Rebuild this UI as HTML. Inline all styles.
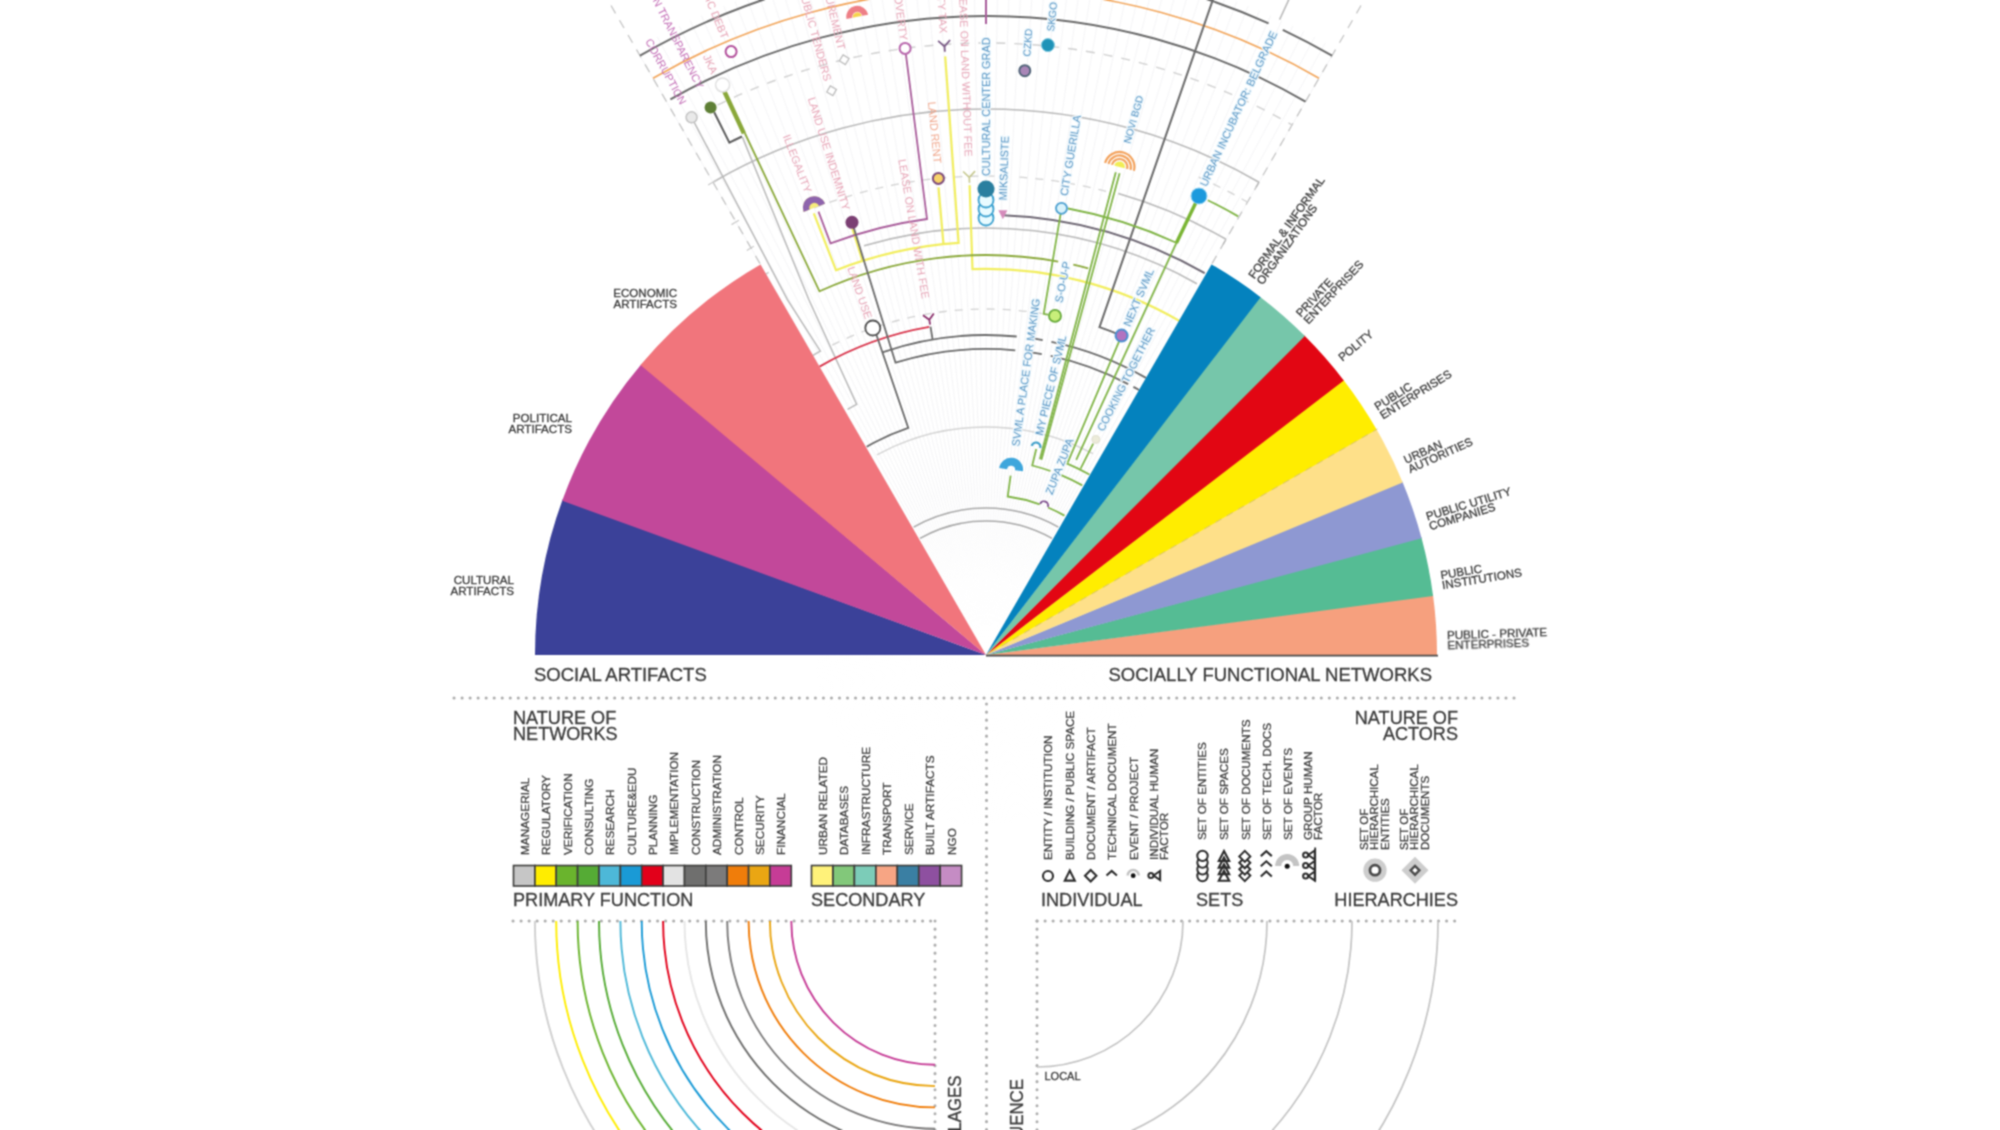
<!DOCTYPE html>
<html><head><meta charset="utf-8"><title>Network diagram</title>
<style>
html,body{margin:0;padding:0;background:#fff;}
body{width:2000px;height:1130px;overflow:hidden;}
svg{display:block;font-family:"Liberation Sans",sans-serif;}
#bottom text{stroke:#3a3a3a;stroke-width:.3px;}
</style></head><body>
<svg width="2000" height="1130" viewBox="0 0 2000 1130">
<defs><filter id="soft" filterUnits="userSpaceOnUse" x="0" y="0" width="2000" height="1130" color-interpolation-filters="sRGB"><feConvolveMatrix order="3" kernelMatrix="1 2 1 2 5 2 1 2 1" divisor="17" edgeMode="duplicate" preserveAlpha="false"/></filter></defs>
<rect width="2000" height="1130" fill="#fff"/>
<g filter="url(#soft)">
<g id="top">
<path d="M1001.0 629.0L1336.0 48.8M1000.5 628.8L1325.4 42.8M1000.1 628.5L1314.6 36.9M999.6 628.3L1303.8 31.3M999.2 628.0L1292.9 25.8M998.7 627.8L1281.8 20.6M998.2 627.6L1270.7 15.5M997.7 627.4L1259.5 10.6M997.2 627.2L1248.2 6.0M996.8 627.0L1236.9 1.5M996.3 626.8L1225.4 -2.8M995.8 626.6L1213.9 -6.9M995.3 626.5L1202.3 -10.7M994.8 626.3L1190.7 -14.4M994.3 626.2L1178.9 -17.9M993.8 626.0L1167.2 -21.1M993.3 625.9L1155.3 -24.2M992.7 625.8L1143.5 -27.1M992.2 625.7L1131.5 -29.7M991.7 625.6L1119.6 -32.1M991.2 625.5L1107.6 -34.4M990.7 625.4L1095.5 -36.4M990.2 625.3L1083.4 -38.2M989.7 625.2L1071.3 -39.8M989.1 625.2L1059.2 -41.2M988.6 625.1L1047.0 -42.3M988.1 625.1L1034.8 -43.3M987.6 625.0L1022.6 -44.0M987.0 625.0L1010.4 -44.6M986.5 625.0L998.2 -44.9M986.0 625.0L986.0 -45.0M985.5 625.0L973.8 -44.9M985.0 625.0L961.6 -44.6M984.4 625.0L949.4 -44.0M983.9 625.1L937.2 -43.3M983.4 625.1L925.0 -42.3M982.9 625.2L912.8 -41.2M982.3 625.2L900.7 -39.8M981.8 625.3L888.6 -38.2M981.3 625.4L876.5 -36.4M980.8 625.5L864.4 -34.4M980.3 625.6L852.4 -32.1M979.8 625.7L840.5 -29.7M979.3 625.8L828.5 -27.1M978.7 625.9L816.7 -24.2M978.2 626.0L804.8 -21.1M977.7 626.2L793.1 -17.9M977.2 626.3L781.3 -14.4M976.7 626.5L769.7 -10.7M976.2 626.6L758.1 -6.9M975.7 626.8L746.6 -2.8M975.2 627.0L735.1 1.5M974.8 627.2L723.8 6.0M974.3 627.4L712.5 10.6M973.8 627.6L701.3 15.5M973.3 627.8L690.2 20.6M972.8 628.0L679.1 25.8M972.4 628.3L668.2 31.3M971.9 628.5L657.4 36.9M971.5 628.8L646.6 42.8M971.0 629.0L636.0 48.8" stroke="#f1f1f4" stroke-width="0.8" fill="none"/>
<defs><radialGradient id="cg" cx="986" cy="655" r="170" gradientUnits="userSpaceOnUse"><stop offset="0" stop-color="#fff" stop-opacity="1"/><stop offset="0.45" stop-color="#fff" stop-opacity="0.9"/><stop offset="1" stop-color="#fff" stop-opacity="0"/></radialGradient></defs><circle cx="986" cy="655" r="170" fill="url(#cg)"/>
<path d="M760.0 263.6L606.0 -3.2" fill="none" stroke="#c4c4c4" stroke-width="1.3" stroke-dasharray="9 8"/>
<path d="M1212.0 263.6L1366.0 -3.2" fill="none" stroke="#c4c4c4" stroke-width="1.3" stroke-dasharray="9 8"/>
<path d="M640.0 55.7A692.0 692.0 0 0 1 1268.6 23.3" fill="none" stroke="#6a6a6a" stroke-width="2"/>
<path d="M1282.8 29.9A692.0 692.0 0 0 1 1332.0 55.7" fill="none" stroke="#6a6a6a" stroke-width="2"/>
<path d="M653.0 78.2A666.0 666.0 0 0 1 1319.0 78.2" fill="none" stroke="#f2a55a" stroke-width="1.6"/>
<path d="M670.4 99.4A639.0 639.0 0 0 1 1305.5 101.6" fill="none" stroke="#6a6a6a" stroke-width="2"/>
<path d="M717.7 104.9A612.0 612.0 0 0 1 1292.0 125.0" fill="none" stroke="#cfcfcf" stroke-width="1.4" stroke-dasharray="9 9"/>
<path d="M713.8 181.7A546.0 546.0 0 0 1 1259.0 182.2" fill="none" stroke="#b9b9b9" stroke-width="1.6"/>
<path d="M1118.3 193.6A480.0 480.0 0 0 1 1226.0 239.3" fill="none" stroke="#b9b9b9" stroke-width="1.6"/>
<path d="M814.3 207.8A479.0 479.0 0 0 1 1002.7 176.3" fill="none" stroke="#d2d2d2" stroke-width="1.3" stroke-dasharray="8 8"/>
<path d="M1019.4 177.2A479.0 479.0 0 0 1 1110.0 192.3" fill="none" stroke="#d2d2d2" stroke-width="1.3" stroke-dasharray="8 8"/>
<path d="M1198.7 177.2A523.0 523.0 0 0 1 1247.5 202.1" fill="none" stroke="#d2d2d2" stroke-width="1.3" stroke-dasharray="8 8"/>
<path d="M864.0 245.8A427.0 427.0 0 0 1 1196.9 283.7" fill="none" stroke="#b9b9b9" stroke-width="1.6"/>
<path d="M876.9 454.8A228.0 228.0 0 0 1 1093.0 453.7" fill="none" stroke="#d4d4d4" stroke-width="1.4"/>
<path d="M913.6 527.1A147.0 147.0 0 0 1 1058.4 527.1" fill="none" stroke="#a9a9a9" stroke-width="1.6"/>
<path d="M920.0 538.4A134.0 134.0 0 0 1 1052.0 538.4" fill="none" stroke="#a9a9a9" stroke-width="1.6"/>
<path d="M832.2 345.1A346.0 346.0 0 0 1 1049.1 314.8" fill="none" stroke="#d2d2d2" stroke-width="1.3" stroke-dasharray="8 8"/>
<path d="M1259.0 182.2L1256.0 187.3" fill="none" stroke="#b9b9b9" stroke-width="1.4"/>
<path d="M1226.0 239.3L1223.0 244.5" fill="none" stroke="#b9b9b9" stroke-width="1.4"/>
<path d="M708.1 185.0A546.0 546.0 0 0 1 716.3 180.3" fill="none" stroke="#c9c9c9" stroke-width="1.3"/>
<path d="M731.5 224.6A500.0 500.0 0 0 1 739.0 220.3" fill="none" stroke="#c9c9c9" stroke-width="1.3"/>
<path d="M746.8 250.5A470.0 470.0 0 0 1 753.8 246.3" fill="none" stroke="#c9c9c9" stroke-width="1.3"/>
<path d="M762.0 276.3A440.0 440.0 0 0 1 768.7 272.4" fill="none" stroke="#c9c9c9" stroke-width="1.3"/>
<path d="M691.6 117.3L787.4 299.7L820.4 351.2A346.0 346.0 0 0 0 813.0 355.4" fill="none" stroke="#b9b9b9" stroke-width="1.5"/>
<path d="M742.5 137.4L808.9 299.7L856.7 404.4A282.0 282.0 0 0 0 847.6 409.3" fill="none" stroke="#b9b9b9" stroke-width="1.5"/>
<path d="M1279.6 19.6L1304.8 -34.9" fill="none" stroke="#b9b9b9" stroke-width="1.5"/>
<path d="M813.8 213.4L836.0 270.2A413.0 413.0 0 0 1 958.6 242.9L945.2 56.4" fill="none" stroke="#f2ee5e" stroke-width="2.2"/>
<path d="M943.5 244.2L938.5 187.4" fill="none" stroke="#f2ee5e" stroke-width="2.2"/>
<path d="M852.3 228.5L862.2 259.9" fill="none" stroke="#f2ee5e" stroke-width="2.2"/>
<path d="M969.6 185.3L972.5 269.2A386.0 386.0 0 0 1 1180.2 321.4" fill="none" stroke="#f2ee5e" stroke-width="2.2"/>
<path d="M722.4 87.2L743.9 133.4" fill="none" stroke="#8aa83a" stroke-width="4.5"/>
<path d="M744.8 133.0L819.5 291.3A400.0 400.0 0 0 1 1058.2 261.6" fill="none" stroke="#8aa83a" stroke-width="1.8"/>
<path d="M1073.3 264.6A400.0 400.0 0 0 1 1088.2 268.3" fill="none" stroke="#8aa83a" stroke-width="1.8"/>
<path d="M818.5 211.6L830.5 243.4A440.0 440.0 0 0 1 927.0 219.0L905.9 54.3" fill="none" stroke="#a85c9a" stroke-width="1.8"/>
<path d="M986.0 0.0L986.0 24.0" fill="none" stroke="#a85c9a" stroke-width="2"/>
<path d="M929.3 326.9A333.0 333.0 0 0 0 819.5 366.6" fill="none" stroke="#d8334a" stroke-width="1.8"/>
<path d="M1234.7 -63.2L1099.5 327.1A347.0 347.0 0 0 1 1121.6 335.6" fill="none" stroke="#6a6a6a" stroke-width="2"/>
<path d="M1002.9 215.3A440.0 440.0 0 0 1 1204.7 273.2" fill="none" stroke="#6f6874" stroke-width="2"/>
<path d="M930.5 326.7L932.6 339.5" fill="none" stroke="#6a6a6a" stroke-width="1.8"/>
<path d="M875.9 333.3L908.3 427.9A240.0 240.0 0 0 0 866.7 446.7" fill="none" stroke="#6a6a6a" stroke-width="1.8"/>
<path d="M882.3 352.3A320.0 320.0 0 0 1 1016.7 336.5" fill="none" stroke="#6a6a6a" stroke-width="1.8"/>
<path d="M1028.9 337.9A320.0 320.0 0 0 1 1042.7 340.1" fill="none" stroke="#6a6a6a" stroke-width="1.8"/>
<path d="M1051.4 341.8A320.0 320.0 0 0 1 1146.0 377.9" fill="none" stroke="#6a6a6a" stroke-width="1.8"/>
<path d="M853.5 227.0L895.5 362.7A306.0 306.0 0 0 1 1015.3 350.4" fill="none" stroke="#6a6a6a" stroke-width="1.8"/>
<path d="M1027.0 351.8A306.0 306.0 0 0 1 1041.8 354.1" fill="none" stroke="#6a6a6a" stroke-width="1.8"/>
<path d="M1050.7 355.9A306.0 306.0 0 0 1 1128.2 384.1" fill="none" stroke="#6a6a6a" stroke-width="1.8"/>
<path d="M1133.4 386.9A306.0 306.0 0 0 1 1139.0 390.0" fill="none" stroke="#6a6a6a" stroke-width="1.8"/>
<path d="M714.2 112.2L729.4 142.6A573.0 573.0 0 0 1 742.0 136.5" fill="none" stroke="#5c5c5c" stroke-width="2"/>
<path d="M1060.7 213.3L1043.7 313.8A346.0 346.0 0 0 1 1048.5 314.7" fill="none" stroke="#80b446" stroke-width="1.8"/>
<path d="M1068.0 208.5A454.0 454.0 0 0 1 1175.7 242.5" fill="none" stroke="#80b446" stroke-width="1.8"/>
<path d="M1199.0 196.0L1176.4 242.9" fill="none" stroke="#7ab534" stroke-width="3.5"/>
<path d="M1176.4 242.9L1076.2 459.8" fill="none" stroke="#80b446" stroke-width="1.8"/>
<path d="M1207.8 200.2A506.0 506.0 0 0 1 1238.2 216.4" fill="none" stroke="#80b446" stroke-width="1.8"/>
<path d="M1115.8 172.2L1039.9 459.3" fill="none" stroke="#80b446" stroke-width="1.8"/>
<path d="M1119.6 173.2L1041.4 459.7" fill="none" stroke="#80b446" stroke-width="1.8"/>
<path d="M1119.2 341.1L1067.7 462.6" fill="none" stroke="#80b446" stroke-width="1.8"/>
<path d="M1093.2 443.6L1080.6 468.6" fill="none" stroke="#80b446" stroke-width="1.8"/>
<path d="M1066.6 463.3A208.0 208.0 0 0 1 1089.4 474.5" fill="none" stroke="#80b446" stroke-width="1.8"/>
<path d="M1036.2 449.0L1032.2 465.5A195.0 195.0 0 0 1 1050.5 471.0" fill="none" stroke="#80b446" stroke-width="1.8"/>
<path d="M1060.6 474.8A195.0 195.0 0 0 1 1082.3 485.4" fill="none" stroke="#80b446" stroke-width="1.8"/>
<path d="M1010.6 475.7L1007.7 496.5A160.0 160.0 0 0 1 1039.7 504.3" fill="none" stroke="#80b446" stroke-width="1.8"/>
<path d="M1048.0 507.5A160.0 160.0 0 0 1 1064.5 515.6" fill="none" stroke="#80b446" stroke-width="1.8"/>
<circle cx="691.6" cy="117.3" r="5.5" fill="#e9e9e9" stroke="#c2c2c2" stroke-width="1.5"/>
<circle cx="710.6" cy="107.4" r="6" fill="#5e7f35" stroke="none" stroke-width="1.5"/>
<circle cx="722.6" cy="84.9" r="7" fill="#fff" stroke="#e0e0e0" stroke-width="1.5"/>
<circle cx="731.1" cy="51.6" r="5.5" fill="#fff" stroke="#b3519c" stroke-width="2"/>
<path transform="translate(831.6 90.7) rotate(-15.3)" d="M0 -5L5 0L0 5L-5 0Z" fill="#fff" stroke="#bdbdbd" stroke-width="1.3"/>
<path transform="translate(844.2 59.7) rotate(-13.4)" d="M0 -5L5 0L0 5L-5 0Z" fill="#fff" stroke="#bdbdbd" stroke-width="1.3"/>
<path transform="translate(857.3 16.8) rotate(-11.4)" d="M-11 0A11 11 0 0 1 11 0L5 0A5 5 0 0 0 -5 0Z" fill="#ee7f86" stroke="none" stroke-width="1"/>
<path transform="translate(857.3 16.8) rotate(-11.4)" d="M-4.5 0A4.5 4.5 0 0 1 4.5 0L0 0A0 0 0 0 0 0 0Z" fill="#f6d34e" stroke="none" stroke-width="1"/>
<circle cx="905.1" cy="48.4" r="5.5" fill="#fff" stroke="#b866ac" stroke-width="2"/>
<path transform="translate(944.5 46.4) rotate(-3.9)" d="M-6 -6L0 0L6 -6M0 0L0 5.4" fill="none" stroke="#7a5a86" stroke-width="1.8"/>
<circle cx="1047.9" cy="45.1" r="6.5" fill="#1f93b8" stroke="#7fc9e0" stroke-width="1"/>
<circle cx="1024.8" cy="70.7" r="5.5" fill="#a986b7" stroke="#54667a" stroke-width="2"/>
<path transform="translate(814.3 207.8) rotate(-21.0)" d="M-11.5 0A11.5 11.5 0 0 1 11.5 0L0 0A0 0 0 0 0 0 0Z" fill="#f6ec7c" stroke="none" stroke-width="1"/>
<path transform="translate(814.3 207.8) rotate(-21.0)" d="M-11.5 0A11.5 11.5 0 0 1 11.5 0L5 0A5 5 0 0 0 -5 0Z" fill="#8e64ad" stroke="none" stroke-width="1"/>
<circle cx="852.0" cy="222.3" r="6.5" fill="#7b3f73" stroke="none" stroke-width="1.5"/>
<circle cx="938.4" cy="178.4" r="5.5" fill="#f8d36a" stroke="#7d4b7b" stroke-width="2"/>
<path transform="translate(969.3 177.3) rotate(-2.0)" d="M-6 -6L0 0L6 -6M0 0L0 5.4" fill="none" stroke="#c5c78e" stroke-width="1.6"/>
<circle cx="986.0" cy="218.0" r="7.5" fill="#e9fbff" stroke="#3aa0cf" stroke-width="1.8"/>
<circle cx="986.0" cy="209.0" r="7.5" fill="#e9fbff" stroke="#3aa0cf" stroke-width="1.8"/>
<circle cx="986.0" cy="200.0" r="7.5" fill="#e9fbff" stroke="#3aa0cf" stroke-width="1.8"/>
<circle cx="986.0" cy="189.0" r="8.5" fill="#2a7f9f" stroke="none" stroke-width="1.5"/>
<path d="M998.4 210.3L1007.4 210.3L1002.9 219.3Z" fill="#d58bbb"/>
<circle cx="1061.5" cy="208.3" r="5.5" fill="#d9f3fb" stroke="#4a9fd0" stroke-width="1.8"/>
<path transform="translate(1119.5 166.9) rotate(15.3)" d="M-16 0A16 16 0 0 1 16 0L13.8 0A13.8 13.8 0 0 0 -13.8 0Z" fill="#f3a25c" stroke="none" stroke-width="1"/>
<path transform="translate(1119.5 166.9) rotate(15.3)" d="M-12.5 0A12.5 12.5 0 0 1 12.5 0L10.3 0A10.3 10.3 0 0 0 -10.3 0Z" fill="#f3a25c" stroke="none" stroke-width="1"/>
<path transform="translate(1119.5 166.9) rotate(15.3)" d="M-9 0A9 9 0 0 1 9 0L6.8 0A6.8 6.8 0 0 0 -6.8 0Z" fill="#f3a25c" stroke="none" stroke-width="1"/>
<path transform="translate(1119.5 166.9) rotate(15.3)" d="M-5.5 0A5.5 5.5 0 0 1 5.5 0L0 0A0 0 0 0 0 0 0Z" fill="#f1ee55" stroke="none" stroke-width="1"/>
<circle cx="1199.0" cy="196.0" r="8" fill="#1c9add" stroke="#8fd0f0" stroke-width="1"/>
<circle cx="872.8" cy="328.0" r="7.5" fill="#fff" stroke="#4f4f4f" stroke-width="1.8"/>
<path transform="translate(929.3 319.8) rotate(-9.6)" d="M-5.5 -5.5L0 0L5.5 -5.5M0 0L0 4.95" fill="none" stroke="#8a2f6b" stroke-width="1.8"/>
<circle cx="1055.0" cy="315.9" r="6" fill="#c8ee7a" stroke="#66a93a" stroke-width="1.8"/>
<circle cx="1121.6" cy="335.6" r="6" fill="#b273c0" stroke="#4a8fcf" stroke-width="2"/>
<circle cx="1095.9" cy="439.4" r="4" fill="#ecebd9" stroke="#e0dfcf" stroke-width="1"/>
<path transform="translate(1036.0 446.9) rotate(13.5)" d="M-5.5 0A5.5 5.5 0 0 1 5.5 0L3.3 0A3.3 3.3 0 0 0 -3.3 0Z" fill="#3f9fc9" stroke="none" stroke-width="1"/>
<path transform="translate(1011.1 469.7) rotate(7.7)" d="M-12 0A12 12 0 0 1 12 0L4 0A4 4 0 0 0 -4 0Z" fill="#3ea6dc" stroke="none" stroke-width="1"/>
<path transform="translate(1044.0 505.4) rotate(21.2)" d="M-5 0A5 5 0 0 1 5 0L3.2 0A3.2 3.2 0 0 0 -3.2 0Z" fill="#7a4a8a" stroke="none" stroke-width="1"/>
<text transform="translate(648.3 39.5) rotate(61.2)" font-size="10.9" fill="#c26bb5" dy="0.35em">CORRUPTION</text>
<text transform="translate(625.6 -61.5) rotate(63.3)" font-size="10.9" fill="#c26bb5" dy="0.35em">INFORMATION TRANSPARENCY</text>
<text transform="translate(697.7 -27.6) rotate(67.1)" font-size="10.9" fill="#e6a3b5" dy="0.35em">PUBLIC DEBT</text>
<text transform="translate(706.2 55.0) rotate(65.0)" font-size="10.9" fill="#e6a3b5" dy="0.35em">JKA</text>
<text transform="translate(802.8 -10.2) rotate(74.6)" font-size="10.9" fill="#e6a3b5" dy="0.35em">PUBLIC TENDERS</text>
<text transform="translate(821.9 -33.7) rotate(76.6)" font-size="10.9" fill="#e6a3b5" dy="0.35em">PROCUREMENT</text>
<text transform="translate(811.4 97.7) rotate(72.6)" font-size="10.9" fill="#e6a3b5" dy="0.35em">LAND USE INDEMNITY</text>
<text transform="translate(786.4 135.0) rotate(69.0)" font-size="10.9" fill="#e6a3b5" dy="0.35em">ILLEGALITY</text>
<text transform="translate(897.1 -11.1) rotate(82.4)" font-size="10.9" fill="#e6a3b5" dy="0.35em">POVERTY</text>
<text transform="translate(938.0 -49.4) rotate(86.1)" font-size="10.9" fill="#e6a3b5" dy="0.35em">PROPERTY TAX</text>
<text transform="translate(962.9 -7.6) rotate(88.0)" font-size="10.9" fill="#e6a3b5" dy="0.35em">LEASE ON LAND WITHOUT FEE</text>
<text transform="translate(931.7 101.7) rotate(84.4)" font-size="10.9" fill="#f0a58a" dy="0.35em">LAND RENT</text>
<text transform="translate(902.1 159.0) rotate(80.4)" font-size="10.9" fill="#e6a3b5" dy="0.35em">LEASE ON LAND WITH FEE</text>
<text transform="translate(850.8 266.9) rotate(70.8)" font-size="10.9" fill="#e6a3b5" dy="0.35em">LAND USE</text>
<text transform="translate(986.0 176.0) rotate(-90.0)" font-size="10.9" fill="#5a96c4" dy="0.35em" stroke="#eef8fd" stroke-width="2.5" paint-order="stroke" stroke-linejoin="round">CULTURAL CENTER GRAD</text>
<text transform="translate(1002.7 200.3) rotate(-87.9)" font-size="10.9" fill="#5a96c4" dy="0.35em" stroke="#eef8fd" stroke-width="2.5" paint-order="stroke" stroke-linejoin="round">MIKSALISTE</text>
<text transform="translate(1026.8 56.4) rotate(-86.1)" font-size="10.2" fill="#5a96c4" dy="0.35em" stroke="#eef8fd" stroke-width="2.5" paint-order="stroke" stroke-linejoin="round">CZKD</text>
<text transform="translate(1050.5 31.3) rotate(-84.1)" font-size="10.2" fill="#5a96c4" dy="0.35em" stroke="#eef8fd" stroke-width="2.5" paint-order="stroke" stroke-linejoin="round">SKGO</text>
<text transform="translate(1063.7 195.5) rotate(-80.4)" font-size="10.9" fill="#5a96c4" dy="0.35em" stroke="#eef8fd" stroke-width="2.5" paint-order="stroke" stroke-linejoin="round">CITY GUERILLA</text>
<text transform="translate(1127.0 143.1) rotate(-74.6)" font-size="10" fill="#5a96c4" dy="0.35em" stroke="#eef8fd" stroke-width="2.5" paint-order="stroke" stroke-linejoin="round">NOVI BGD</text>
<text transform="translate(1202.9 185.7) rotate(-65.2)" font-size="10.9" fill="#5a96c4" dy="0.35em" stroke="#eef8fd" stroke-width="2.5" paint-order="stroke" stroke-linejoin="round">URBAN INCUBATOR: BELGRADE</text>
<text transform="translate(1058.4 302.4) rotate(-78.4)" font-size="10.9" fill="#5a96c4" dy="0.35em" stroke="#eef8fd" stroke-width="2.5" paint-order="stroke" stroke-linejoin="round">S-O-U-P</text>
<text transform="translate(1126.5 325.7) rotate(-66.9)" font-size="10.9" fill="#5a96c4" dy="0.35em" stroke="#eef8fd" stroke-width="2.5" paint-order="stroke" stroke-linejoin="round">NEXT SVML</text>
<text transform="translate(1015.4 446.1) rotate(-82.0)" font-size="10.9" fill="#5a96c4" dy="0.35em" stroke="#eef8fd" stroke-width="2.5" paint-order="stroke" stroke-linejoin="round">SVML A PLACE FOR MAKING</text>
<text transform="translate(1038.8 435.2) rotate(-76.5)" font-size="10.9" fill="#5a96c4" dy="0.35em" stroke="#eef8fd" stroke-width="2.5" paint-order="stroke" stroke-linejoin="round">MY PIECE OF SVML</text>
<text transform="translate(1100.0 430.3) rotate(-63.1)" font-size="10.9" fill="#5a96c4" dy="0.35em" stroke="#eef8fd" stroke-width="2.5" paint-order="stroke" stroke-linejoin="round">COOKING TOGETHER</text>
<text transform="translate(1048.8 493.8) rotate(-68.7)" font-size="10.9" fill="#5a96c4" dy="0.35em" stroke="#eef8fd" stroke-width="2.5" paint-order="stroke" stroke-linejoin="round">ZUPA ZUPA</text>
<path d="M986.0 655.0L535.0 655.0A451 451 0 0 1 562.7 499.3Z" fill="#3b4199"/>
<path d="M986.0 655.0L562.2 500.7A451 451 0 0 1 641.5 363.9Z" fill="#c2489a"/>
<path d="M986.0 655.0L640.5 365.1A451 451 0 0 1 760.5 264.4Z" fill="#f1757c"/>
<path d="M986.0 655.0L1437.0 655.0A451 451 0 0 0 1433.0 595.0Z" fill="#f6a07e"/>
<path d="M986.0 655.0L1433.1 596.1A451 451 0 0 0 1421.3 537.1Z" fill="#55bc94"/>
<path d="M986.0 655.0L1421.6 538.3A451 451 0 0 0 1402.2 481.3Z" fill="#8e98d2"/>
<path d="M986.0 655.0L1402.7 482.4A451 451 0 0 0 1376.0 428.5Z" fill="#fee089"/>
<path d="M986.0 655.0L1376.6 429.5A451 451 0 0 0 1343.1 379.5Z" fill="#ffed00"/>
<path d="M986.0 655.0L1343.8 380.4A451 451 0 0 0 1304.1 335.3Z" fill="#e20613"/>
<path d="M986.0 655.0L1304.9 336.1A451 451 0 0 0 1259.6 296.5Z" fill="#76c6aa"/>
<path d="M986.0 655.0L1260.6 297.2A451 451 0 0 0 1211.5 264.4Z" fill="#0482be"/>
<path d="M990.3 652.5L1377.4 429.0" fill="none" stroke="#d9c46a" stroke-width="1" stroke-dasharray="7 6"/>
<path d="M986 655.6H1438" stroke="#4a4a4a" stroke-width="1.6"/>
</g>
<g id="bottom">
<g transform="translate(677.0 297.0) rotate(0.0)" font-size="11.6" fill="#3a3a3a" text-anchor="end"><text x="0" y="0">ECONOMIC</text><text x="0" y="10.5">ARTIFACTS</text></g>
<g transform="translate(572.0 422.0) rotate(0.0)" font-size="11.6" fill="#3a3a3a" text-anchor="end"><text x="0" y="0">POLITICAL</text><text x="0" y="10.5">ARTIFACTS</text></g>
<g transform="translate(514.0 584.0) rotate(0.0)" font-size="11.6" fill="#3a3a3a" text-anchor="end"><text x="0" y="0">CULTURAL</text><text x="0" y="10.5">ARTIFACTS</text></g>
<g transform="translate(1254.3 279.5) rotate(-54.5)" font-size="11.6" fill="#3a3a3a" text-anchor="start"><text x="0" y="0">FORMAL &amp; INFORMAL</text><text x="0" y="10.2">ORGANIZATIONS</text></g>
<g transform="translate(1301.0 317.8) rotate(-47.0)" font-size="11.6" fill="#3a3a3a" text-anchor="start"><text x="0" y="0">PRIVATE</text><text x="0" y="10.2">ENTERPRISES</text></g>
<g transform="translate(1342.4 361.8) rotate(-39.5)" font-size="11.6" fill="#3a3a3a" text-anchor="start"><text x="0" y="0">POLITY</text></g>
<g transform="translate(1377.6 410.8) rotate(-31.9)" font-size="11.6" fill="#3a3a3a" text-anchor="start"><text x="0" y="0">PUBLIC</text><text x="0" y="10.2">ENTERPRISES</text></g>
<g transform="translate(1406.1 464.0) rotate(-24.4)" font-size="11.6" fill="#3a3a3a" text-anchor="start"><text x="0" y="0">URBAN</text><text x="0" y="10.2">AUTORITIES</text></g>
<g transform="translate(1427.5 520.5) rotate(-16.9)" font-size="11.6" fill="#3a3a3a" text-anchor="start"><text x="0" y="0">PUBLIC UTILITY</text><text x="0" y="10.2">COMPANIES</text></g>
<g transform="translate(1441.2 579.2) rotate(-9.4)" font-size="11.6" fill="#3a3a3a" text-anchor="start"><text x="0" y="0">PUBLIC</text><text x="0" y="10.2">INSTITUTIONS</text></g>
<g transform="translate(1447.2 639.3) rotate(-1.9)" font-size="11.6" fill="#3a3a3a" text-anchor="start"><text x="0" y="0">PUBLIC - PRIVATE</text><text x="0" y="10.2">ENTERPRISES</text></g>
<text x="534" y="681" font-size="18.5" fill="#3a3a3a">SOCIAL ARTIFACTS</text>
<text x="1432" y="681" font-size="18.5" fill="#3a3a3a" text-anchor="end">SOCIALLY FUNCTIONAL NETWORKS</text>
<path d="M454 697.9H1521" stroke="#adadad" stroke-width="3" stroke-dasharray="0.1 7.93" stroke-linecap="round" fill="none"/>
<path d="M986.5 704V1135" stroke="#adadad" stroke-width="3" stroke-dasharray="0.1 7.93" stroke-linecap="round" fill="none"/>
<path d="M513 921H935" stroke="#adadad" stroke-width="3" stroke-dasharray="0.1 7.93" stroke-linecap="round" fill="none"/>
<path d="M935 921V1135" stroke="#adadad" stroke-width="3" stroke-dasharray="0.1 7.93" stroke-linecap="round" fill="none"/>
<path d="M1037 921H1462" stroke="#adadad" stroke-width="3" stroke-dasharray="0.1 7.93" stroke-linecap="round" fill="none"/>
<path d="M1037 921V1135" stroke="#adadad" stroke-width="3" stroke-dasharray="0.1 7.93" stroke-linecap="round" fill="none"/>
<text x="513" y="723.5" font-size="18.1" fill="#3a3a3a">NATURE OF</text>
<text x="513" y="739.8" font-size="18.1" fill="#3a3a3a">NETWORKS</text>
<text x="513" y="906" font-size="18.1" fill="#3a3a3a">PRIMARY FUNCTION</text>
<text x="811" y="906" font-size="18.1" fill="#3a3a3a">SECONDARY</text>
<rect x="513.5" y="865.5" width="21.4" height="20.5" fill="#c6c6c6" stroke="#3c3c3b" stroke-width="1.6"/>
<text transform="translate(528.8 855) rotate(-90)" font-size="11.8" fill="#3a3a3a">MANAGERIAL</text>
<rect x="534.9" y="865.5" width="21.4" height="20.5" fill="#ffed00" stroke="#3c3c3b" stroke-width="1.6"/>
<text transform="translate(550.2 855) rotate(-90)" font-size="11.8" fill="#3a3a3a">REGULATORY</text>
<rect x="556.2" y="865.5" width="21.4" height="20.5" fill="#6ab42d" stroke="#3c3c3b" stroke-width="1.6"/>
<text transform="translate(571.5 855) rotate(-90)" font-size="11.8" fill="#3a3a3a">VERIFICATION</text>
<rect x="577.6" y="865.5" width="21.4" height="20.5" fill="#55ab35" stroke="#3c3c3b" stroke-width="1.6"/>
<text transform="translate(592.9 855) rotate(-90)" font-size="11.8" fill="#3a3a3a">CONSULTING</text>
<rect x="599.0" y="865.5" width="21.4" height="20.5" fill="#4db8d8" stroke="#3c3c3b" stroke-width="1.6"/>
<text transform="translate(614.3 855) rotate(-90)" font-size="11.8" fill="#3a3a3a">RESEARCH</text>
<rect x="620.4" y="865.5" width="21.4" height="20.5" fill="#1a9ad6" stroke="#3c3c3b" stroke-width="1.6"/>
<text transform="translate(635.6 855) rotate(-90)" font-size="11.8" fill="#3a3a3a">CULTURE&amp;EDU</text>
<rect x="641.7" y="865.5" width="21.4" height="20.5" fill="#e2001a" stroke="#3c3c3b" stroke-width="1.6"/>
<text transform="translate(657.0 855) rotate(-90)" font-size="11.8" fill="#3a3a3a">PLANNING</text>
<rect x="663.1" y="865.5" width="21.4" height="20.5" fill="#e3e3e3" stroke="#3c3c3b" stroke-width="1.6"/>
<text transform="translate(678.4 855) rotate(-90)" font-size="11.8" fill="#3a3a3a">IMPLEMENTATION</text>
<rect x="684.5" y="865.5" width="21.4" height="20.5" fill="#6f6f6e" stroke="#3c3c3b" stroke-width="1.6"/>
<text transform="translate(699.7 855) rotate(-90)" font-size="11.8" fill="#3a3a3a">CONSTRUCTION</text>
<rect x="705.8" y="865.5" width="21.4" height="20.5" fill="#7c7b7b" stroke="#3c3c3b" stroke-width="1.6"/>
<text transform="translate(721.1 855) rotate(-90)" font-size="11.8" fill="#3a3a3a">ADMINISTRATION</text>
<rect x="727.2" y="865.5" width="21.4" height="20.5" fill="#f07d0a" stroke="#3c3c3b" stroke-width="1.6"/>
<text transform="translate(742.5 855) rotate(-90)" font-size="11.8" fill="#3a3a3a">CONTROL</text>
<rect x="748.6" y="865.5" width="21.4" height="20.5" fill="#eaa613" stroke="#3c3c3b" stroke-width="1.6"/>
<text transform="translate(763.9 855) rotate(-90)" font-size="11.8" fill="#3a3a3a">SECURITY</text>
<rect x="769.9" y="865.5" width="21.4" height="20.5" fill="#c63c96" stroke="#3c3c3b" stroke-width="1.6"/>
<text transform="translate(785.2 855) rotate(-90)" font-size="11.8" fill="#3a3a3a">FINANCIAL</text>
<rect x="811.5" y="865.5" width="21.4" height="20.5" fill="#fff27a" stroke="#3c3c3b" stroke-width="1.6"/>
<text transform="translate(826.8 855) rotate(-90)" font-size="11.8" fill="#3a3a3a">URBAN RELATED</text>
<rect x="833.0" y="865.5" width="21.4" height="20.5" fill="#82c87a" stroke="#3c3c3b" stroke-width="1.6"/>
<text transform="translate(848.3 855) rotate(-90)" font-size="11.8" fill="#3a3a3a">DATABASES</text>
<rect x="854.4" y="865.5" width="21.4" height="20.5" fill="#7cccb8" stroke="#3c3c3b" stroke-width="1.6"/>
<text transform="translate(869.7 855) rotate(-90)" font-size="11.8" fill="#3a3a3a">INFRASTRUCTURE</text>
<rect x="875.9" y="865.5" width="21.4" height="20.5" fill="#f7a584" stroke="#3c3c3b" stroke-width="1.6"/>
<text transform="translate(891.2 855) rotate(-90)" font-size="11.8" fill="#3a3a3a">TRANSPORT</text>
<rect x="897.3" y="865.5" width="21.4" height="20.5" fill="#3a7fa3" stroke="#3c3c3b" stroke-width="1.6"/>
<text transform="translate(912.6 855) rotate(-90)" font-size="11.8" fill="#3a3a3a">SERVICE</text>
<rect x="918.8" y="865.5" width="21.4" height="20.5" fill="#8e50a0" stroke="#3c3c3b" stroke-width="1.6"/>
<text transform="translate(934.1 855) rotate(-90)" font-size="11.8" fill="#3a3a3a">BUILT ARTIFACTS</text>
<rect x="940.2" y="865.5" width="21.4" height="20.5" fill="#c58cc4" stroke="#3c3c3b" stroke-width="1.6"/>
<text transform="translate(955.5 855) rotate(-90)" font-size="11.8" fill="#3a3a3a">NGO</text>
<path d="M534.9 921A400.1 400.1 0 0 0 935 1321.1" fill="none" stroke="#cfcfcf" stroke-width="1.9"/>
<path d="M556.2 921A378.8 378.8 0 0 0 935 1299.8" fill="none" stroke="#ffed00" stroke-width="1.9"/>
<path d="M577.6 921A357.4 357.4 0 0 0 935 1278.4" fill="none" stroke="#6ab42d" stroke-width="1.9"/>
<path d="M599.0 921A336.0 336.0 0 0 0 935 1257.0" fill="none" stroke="#55ab35" stroke-width="1.9"/>
<path d="M620.4 921A314.6 314.6 0 0 0 935 1235.7" fill="none" stroke="#4db8d8" stroke-width="1.9"/>
<path d="M641.7 921A293.3 293.3 0 0 0 935 1214.3" fill="none" stroke="#1a9ad6" stroke-width="1.9"/>
<path d="M663.1 921A271.9 271.9 0 0 0 935 1192.9" fill="none" stroke="#e2001a" stroke-width="1.9"/>
<path d="M684.5 921A250.5 250.5 0 0 0 935 1171.5" fill="none" stroke="#e6e6e6" stroke-width="1.9"/>
<path d="M705.8 921A229.2 229.2 0 0 0 935 1150.2" fill="none" stroke="#6f6f6e" stroke-width="1.9"/>
<path d="M727.2 921A207.8 207.8 0 0 0 935 1128.8" fill="none" stroke="#7c7b7b" stroke-width="1.9"/>
<path d="M748.6 921A186.4 186.4 0 0 0 935 1107.4" fill="none" stroke="#f07d0a" stroke-width="1.9"/>
<path d="M769.9 921A165.1 165.1 0 0 0 935 1086.1" fill="none" stroke="#eaa613" stroke-width="1.9"/>
<path d="M791.3 921A143.7 143.7 0 0 0 935 1064.7" fill="none" stroke="#c63c96" stroke-width="1.9"/>
<path d="M1183 921A146 146 0 0 1 1037 1067" fill="none" stroke="#c4c4c4" stroke-width="1.7"/>
<path d="M1267 921A230 230 0 0 1 1037 1151" fill="none" stroke="#c4c4c4" stroke-width="1.7"/>
<path d="M1352 921A315 315 0 0 1 1037 1236" fill="none" stroke="#c4c4c4" stroke-width="1.7"/>
<path d="M1438 921A401 401 0 0 1 1037 1322" fill="none" stroke="#c4c4c4" stroke-width="1.7"/>
<text x="1044.5" y="1080" font-size="11" fill="#3a3a3a">LOCAL</text>
<text transform="translate(960.8 1075.5) rotate(-90) scale(0.93 1.04)" text-anchor="end" font-size="18.1" fill="#3a3a3a">ASSEMBLAGES</text>
<text transform="translate(1022.5 1079) rotate(-90) scale(0.93 1.04)" text-anchor="end" font-size="18.1" fill="#3a3a3a">INFLUENCE</text>
<text x="1458" y="723.5" font-size="18.1" fill="#3a3a3a" text-anchor="end">NATURE OF</text>
<text x="1458" y="739.8" font-size="18.1" fill="#3a3a3a" text-anchor="end">ACTORS</text>
<text x="1041" y="906" font-size="18.1" fill="#3a3a3a">INDIVIDUAL</text>
<text x="1196" y="906" font-size="18.1" fill="#3a3a3a">SETS</text>
<text x="1458" y="906" font-size="18.1" fill="#3a3a3a" text-anchor="end">HIERARCHIES</text>
<text transform="translate(1052.4 860) rotate(-90)" font-size="11.7" fill="#3a3a3a">ENTITY / INSTITUTION</text>
<text transform="translate(1074.0 860) rotate(-90)" font-size="11.7" fill="#3a3a3a">BUILDING / PUBLIC SPACE</text>
<text transform="translate(1095.0 860) rotate(-90)" font-size="11.7" fill="#3a3a3a">DOCUMENT / ARTIFACT</text>
<text transform="translate(1116.0 860) rotate(-90)" font-size="11.7" fill="#3a3a3a">TECHNICAL DOCUMENT</text>
<text transform="translate(1137.6 860) rotate(-90)" font-size="11.7" fill="#3a3a3a">EVENT / PROJECT</text>
<text transform="translate(1158.0 860) rotate(-90)" font-size="11.7" fill="#3a3a3a">INDIVIDUAL HUMAN</text>
<text transform="translate(1168.4 860) rotate(-90)" font-size="11.7" fill="#3a3a3a">FACTOR</text>
<text transform="translate(1206.4 840) rotate(-90)" font-size="11.7" fill="#3a3a3a">SET OF ENTITIES</text>
<text transform="translate(1228.0 840) rotate(-90)" font-size="11.7" fill="#3a3a3a">SET OF SPACES</text>
<text transform="translate(1249.6 840) rotate(-90)" font-size="11.7" fill="#3a3a3a">SET OF DOCUMENTS</text>
<text transform="translate(1270.6 840) rotate(-90)" font-size="11.7" fill="#3a3a3a">SET OF TECH. DOCS</text>
<text transform="translate(1291.6 840) rotate(-90)" font-size="11.7" fill="#3a3a3a">SET OF EVENTS</text>
<text transform="translate(1311.5 840) rotate(-90)" font-size="11.7" fill="#3a3a3a">GROUP HUMAN</text>
<text transform="translate(1321.9 840) rotate(-90)" font-size="11.7" fill="#3a3a3a">FACTOR</text>
<text transform="translate(1368.0 850) rotate(-90)" font-size="11.5" fill="#3a3a3a">SET OF</text>
<text transform="translate(1378.4 850) rotate(-90)" font-size="11.5" fill="#3a3a3a">HIERARCHICAL</text>
<text transform="translate(1388.8 850) rotate(-90)" font-size="11.5" fill="#3a3a3a">ENTITIES</text>
<text transform="translate(1408.0 850) rotate(-90)" font-size="11.5" fill="#3a3a3a">SET OF</text>
<text transform="translate(1418.4 850) rotate(-90)" font-size="11.5" fill="#3a3a3a">HIERARCHICAL</text>
<text transform="translate(1428.8 850) rotate(-90)" font-size="11.5" fill="#3a3a3a">DOCUMENTS</text>
<circle cx="1048" cy="876" r="5" fill="none" stroke="#2c2c2c" stroke-width="2.1"/>
<path d="M1064.8 880.6L1069.8 870.6L1074.8 880.6Z" fill="none" stroke="#2c2c2c" stroke-width="2.1"/>
<path d="M1085 875.7L1090.7 870L1096.4 875.7L1090.7 881.4Z" fill="none" stroke="#2c2c2c" stroke-width="2.1"/>
<path d="M1106.5 875.5L1111.7 871L1116.9 875.5" fill="none" stroke="#2c2c2c" stroke-width="2.1"/>
<path d="M1126.4 875.5A6.8 6.8 0 0 1 1140 875.5L1137.4 875.5A4.2 4.2 0 0 0 1129 875.5Z" fill="#c4c4c4"/><circle cx="1133.2" cy="875.7" r="2.4" fill="#111"/>
<path d="M1153.5 875.5L1160.1 870.9V880.1Z" fill="none" stroke="#2c2c2c" stroke-width="2.1"/><circle cx="1150.9" cy="875.5" r="2.5" fill="#fff" stroke="#2c2c2c" stroke-width="2"/>
<circle cx="1202.5" cy="876.0" r="5.2" fill="#fff" stroke="#2c2c2c" stroke-width="2"/>
<circle cx="1202.5" cy="869.3" r="5.2" fill="#fff" stroke="#2c2c2c" stroke-width="2"/>
<circle cx="1202.5" cy="862.6" r="5.2" fill="#fff" stroke="#2c2c2c" stroke-width="2"/>
<circle cx="1202.5" cy="855.9" r="5.2" fill="#fff" stroke="#2c2c2c" stroke-width="2"/>
<path d="M1218.8 880.8L1224 870.8L1229.2 880.8Z" fill="none" stroke="#2c2c2c" stroke-width="2.1"/>
<path d="M1218.8 874.2L1224 864.2L1229.2 874.2Z" fill="none" stroke="#2c2c2c" stroke-width="2.1"/>
<path d="M1218.8 867.6L1224 857.6L1229.2 867.6Z" fill="none" stroke="#2c2c2c" stroke-width="2.1"/>
<path d="M1218.8 861.0L1224 851.0L1229.2 861.0Z" fill="none" stroke="#2c2c2c" stroke-width="2.1"/>
<path d="M1239.3 875.6L1244.8 870.1L1250.3 875.6L1244.8 881.1Z" fill="#fff" stroke="#2c2c2c" stroke-width="2"/>
<path d="M1239.3 869.2L1244.8 863.7L1250.3 869.2L1244.8 874.7Z" fill="#fff" stroke="#2c2c2c" stroke-width="2"/>
<path d="M1239.3 862.8L1244.8 857.3L1250.3 862.8L1244.8 868.3Z" fill="#fff" stroke="#2c2c2c" stroke-width="2"/>
<path d="M1239.3 856.4L1244.8 850.9L1250.3 856.4L1244.8 861.9Z" fill="#fff" stroke="#2c2c2c" stroke-width="2"/>
<path d="M1260.8 876.5L1266.3 871.5L1271.8 876.5" fill="none" stroke="#2c2c2c" stroke-width="2.1"/>
<path d="M1260.8 866.3L1266.3 861.3L1271.8 866.3" fill="none" stroke="#2c2c2c" stroke-width="2.1"/>
<path d="M1260.8 856.1L1266.3 851.1L1271.8 856.1" fill="none" stroke="#2c2c2c" stroke-width="2.1"/>
<path d="M1275.2 866A12 12 0 0 1 1299.2 866L1293.2 866A6 6 0 0 0 1281.2 866Z" fill="#c4c4c4"/><circle cx="1287.2" cy="866.3" r="2.5" fill="#111"/>
<path d="M1308.2 876.0L1314.8 871.4V880.6Z" fill="none" stroke="#2c2c2c" stroke-width="2.1"/><circle cx="1305.6" cy="876.0" r="2.5" fill="#fff" stroke="#2c2c2c" stroke-width="2"/>
<path d="M1308.2 865.5L1314.8 860.9V870.1Z" fill="none" stroke="#2c2c2c" stroke-width="2.1"/><circle cx="1305.6" cy="865.5" r="2.5" fill="#fff" stroke="#2c2c2c" stroke-width="2"/>
<path d="M1308.2 855.0L1314.8 850.4V859.6Z" fill="none" stroke="#2c2c2c" stroke-width="2.1"/><circle cx="1305.6" cy="855.0" r="2.5" fill="#fff" stroke="#2c2c2c" stroke-width="2"/>
<path d="M1315.2 847.5V881.5" stroke="#2c2c2c" stroke-width="1.8"/>
<circle cx="1375" cy="870.2" r="11.6" fill="#cdcdcd"/><circle cx="1375" cy="870.2" r="5" fill="#fff" stroke="#4a4a4a" stroke-width="2.8"/>
<path d="M1401.5 870.3L1415 856.8L1428.5 870.3L1415 883.8Z" fill="#cdcdcd"/><path d="M1410.6 870.3L1415 865.9L1419.4 870.3L1415 874.7Z" fill="#fff" stroke="#4a4a4a" stroke-width="2.4"/>
</g>
</g>
</svg>
</body></html>
